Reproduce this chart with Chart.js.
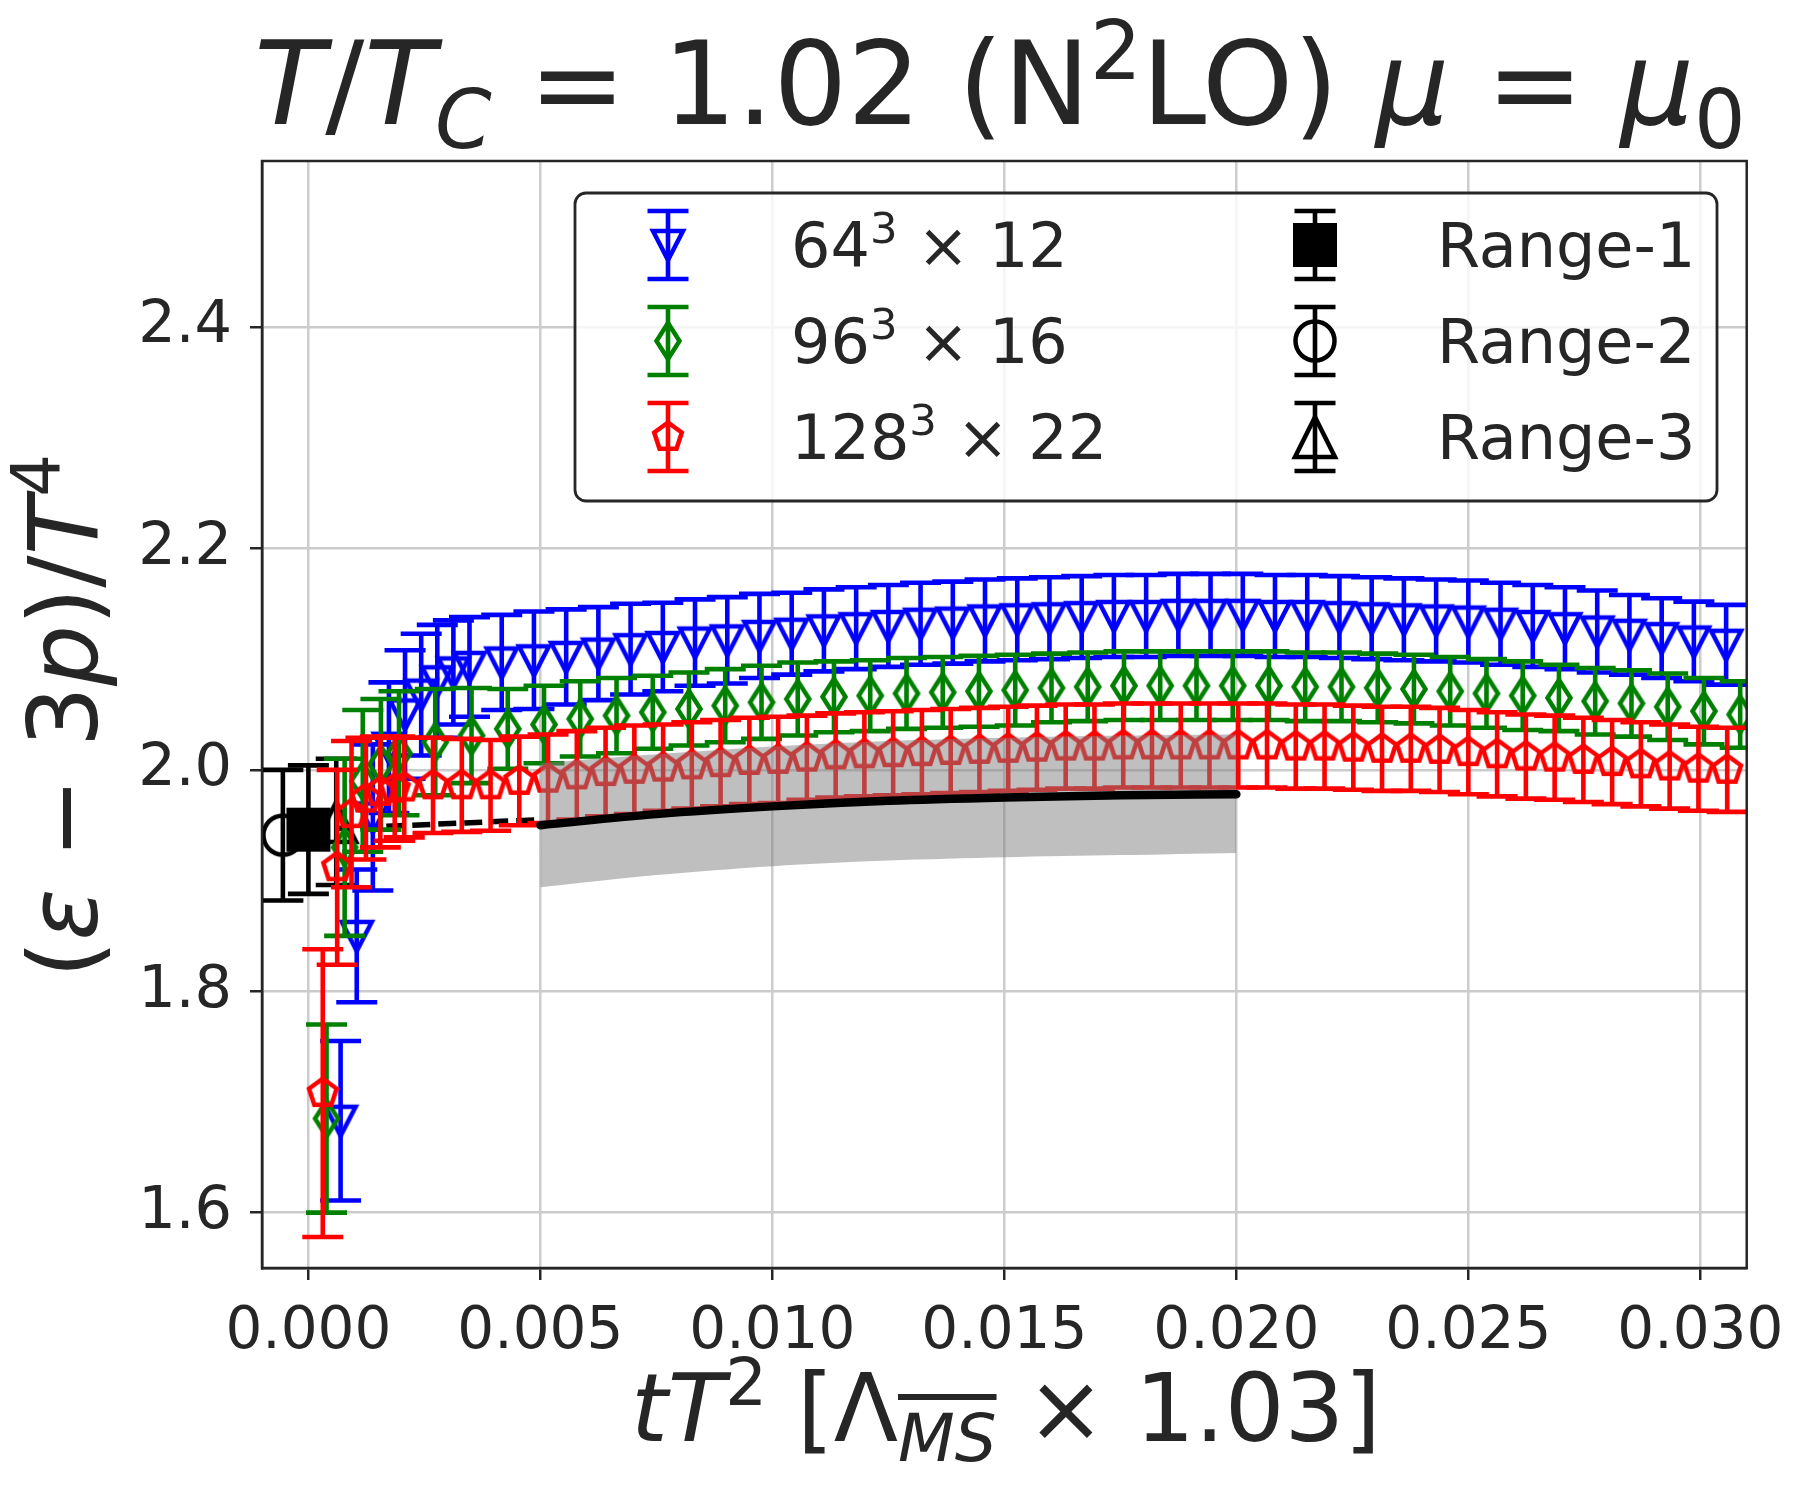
<!DOCTYPE html>
<html>
<head>
<meta charset="utf-8">
<script src="https://cdn.jsdelivr.net/npm/chart.js@4.4.0/dist/chart.umd.min.js"></script>
<style>
html, body { margin: 0; padding: 0; background: #fff; }
#wrap { position: relative; width: 1803px; height: 1502px; font-family: "DejaVu Sans", sans-serif; color: #262626; }
#c { position: absolute; left: 0; top: 0; }
.lbl { position: absolute; white-space: nowrap; line-height: 1; }
.sup { font-size: 70%; position: relative; top: -0.55em; }
.sub { font-size: 70%; position: relative; top: 0.3em; }
#title { font-size: 116px; left: 1000px; top: 26px; transform: translateX(-50%); }
#xlabel { font-size: 94px; left: 1006px; top: 1362px; transform: translateX(-50%); }
#ylabel { font-size: 96px; left: 64px; top: 716px; transform: translate(-50%, -50%) rotate(-90deg); }
.leg { font-size: 62px; transform: translateY(-50%); }
</style>
</head>
<body>
<div id="wrap">
  <canvas id="c" width="1803" height="1502"></canvas>
  <div id="title" class="lbl"><i>T</i>/<i>T</i><span class="sub"><i>C</i></span> = 1.02 (N<span class="sup">2</span>LO) <i>μ</i> = <i>μ</i><span class="sub">0</span></div>
  <div id="xlabel" class="lbl"><i>tT</i><span class="sup">2</span> [Λ<span class="sub"><i style="text-decoration: overline;">MS</i></span> × 1.03]</div>
  <div id="ylabel" class="lbl">(<i>ε</i> − 3<i>p</i>)/<i>T</i><span class="sup">4</span></div>
  <div class="lbl leg" style="left:791px; top:246px;">64<span class="sup">3</span> × 12</div>
  <div class="lbl leg" style="left:791px; top:342px;">96<span class="sup">3</span> × 16</div>
  <div class="lbl leg" style="left:791px; top:438px;">128<span class="sup">3</span> × 22</div>
  <div class="lbl leg" style="left:1437px; top:246px;">Range-1</div>
  <div class="lbl leg" style="left:1437px; top:342px;">Range-2</div>
  <div class="lbl leg" style="left:1437px; top:438px;">Range-3</div>
</div>
<script>
// tick values
const xTicks = [0.000, 0.005, 0.010, 0.015, 0.020, 0.025, 0.030];
const yTicks = [1.6, 1.8, 2.0, 2.2, 2.4];

// 64^3 x 12
const x64 = [0.000694, 0.001042, 0.001389, 0.001736, 0.002083, 0.002431, 0.002778, 0.003125, 0.003472,
  0.004167, 0.004861, 0.005556, 0.00625, 0.006944, 0.007639, 0.008333, 0.009028, 0.009722, 0.010417,
  0.011111, 0.011806, 0.0125, 0.013194, 0.013889, 0.014583, 0.015278, 0.015972, 0.016667, 0.017361,
  0.018056, 0.01875, 0.019444, 0.020139, 0.020833, 0.021528, 0.022222, 0.022917, 0.023611, 0.024306,
  0.025, 0.025694, 0.026389, 0.027083, 0.027778, 0.028472, 0.029167, 0.029861, 0.030556];
const y64 = [1.683, 1.850, 1.957, 2.020, 2.050, 2.068, 2.080, 2.088, 2.093,
  2.097, 2.099, 2.102, 2.105, 2.109, 2.111, 2.115, 2.117, 2.121, 2.123,
  2.126, 2.128, 2.130, 2.132, 2.133, 2.135, 2.136, 2.137, 2.138, 2.139,
  2.139, 2.140, 2.140, 2.140, 2.139, 2.139, 2.138, 2.137, 2.136, 2.135,
  2.134, 2.132, 2.130, 2.128, 2.125, 2.122, 2.119, 2.116, 2.113];
const e64 = [0.072, 0.060, 0.066, 0.059, 0.058, 0.055, 0.051, 0.047, 0.045,
  0.043, 0.044, 0.043, 0.042, 0.041, 0.040, 0.039, 0.039, 0.038, 0.037,
  0.037, 0.037, 0.037, 0.037, 0.037, 0.037, 0.037, 0.037, 0.037, 0.037,
  0.037, 0.037, 0.037, 0.037, 0.037, 0.037, 0.037, 0.037, 0.037, 0.037,
  0.037, 0.037, 0.037, 0.037, 0.037, 0.036, 0.036, 0.036, 0.036];

// 96^3 x 16
const x96 = [0.000391, 0.000781, 0.001172, 0.001563, 0.001953, 0.002734, 0.003516, 0.004297, 0.005078,
  0.005859, 0.006641, 0.007422, 0.008203, 0.008984, 0.009766, 0.010547, 0.011328, 0.012109, 0.012891,
  0.013672, 0.014453, 0.015234, 0.016016, 0.016797, 0.017578, 0.018359, 0.019141, 0.019922, 0.020703,
  0.021484, 0.022266, 0.023047, 0.023828, 0.024609, 0.025391, 0.026172, 0.026953, 0.027734, 0.028516,
  0.029297, 0.030078, 0.030859];
const y96 = [1.685, 1.930, 1.990, 2.005, 2.015, 2.025, 2.031, 2.037, 2.041,
  2.046, 2.049, 2.052, 2.055, 2.058, 2.061, 2.064, 2.066, 2.067, 2.069,
  2.070, 2.071, 2.072, 2.074, 2.075, 2.076, 2.076, 2.076, 2.076, 2.076,
  2.075, 2.075, 2.074, 2.073, 2.071, 2.069, 2.067, 2.065, 2.062, 2.060,
  2.057, 2.053, 2.050];
const e96 = [0.085, 0.080, 0.064, 0.059, 0.056, 0.048, 0.043, 0.036, 0.035,
  0.034, 0.034, 0.033, 0.033, 0.033, 0.033, 0.033, 0.032, 0.032, 0.032,
  0.032, 0.032, 0.032, 0.031, 0.031, 0.031, 0.031, 0.031, 0.031, 0.031,
  0.031, 0.031, 0.031, 0.031, 0.031, 0.031, 0.031, 0.030, 0.030, 0.030,
  0.030, 0.030, 0.030];

// 128^3 x 22
const x128 = [0.00031, 0.00062, 0.00093, 0.00124, 0.00155, 0.00186,
  0.002066, 0.002686, 0.003306, 0.003926, 0.004545, 0.005165, 0.005785, 0.006405, 0.007025, 0.007645,
  0.008264, 0.008884, 0.009504, 0.010124, 0.010744, 0.011364, 0.011983, 0.012603, 0.013223, 0.013843,
  0.014463, 0.015083, 0.015702, 0.016322, 0.016942, 0.017562, 0.018182, 0.018802, 0.019421, 0.020041,
  0.020661, 0.021281, 0.021901, 0.022521, 0.02314, 0.02376, 0.02438, 0.025, 0.02562, 0.02624,
  0.02686, 0.027479, 0.028099, 0.028719, 0.029339, 0.029959, 0.030579];
const y128 = [1.708, 1.912, 1.960, 1.974, 1.980, 1.983,
  1.984, 1.986, 1.986, 1.986, 1.990, 1.992, 1.995, 1.998, 2.000, 2.002,
  2.004, 2.006, 2.008, 2.009, 2.011, 2.013, 2.014, 2.015, 2.016, 2.017,
  2.018, 2.019, 2.020, 2.021, 2.021, 2.022, 2.022, 2.022, 2.022, 2.022,
  2.022, 2.021, 2.021, 2.020, 2.019, 2.019, 2.018, 2.016, 2.014, 2.012,
  2.011, 2.009, 2.007, 2.005, 2.003, 2.001, 2.000];
const e128 = [0.130, 0.088, 0.066, 0.055, 0.050, 0.047,
  0.045, 0.043, 0.042, 0.041, 0.040, 0.040, 0.040, 0.040, 0.040, 0.039,
  0.039, 0.039, 0.039, 0.039, 0.038, 0.038, 0.038, 0.038, 0.038, 0.038,
  0.038, 0.038, 0.038, 0.038, 0.038, 0.038, 0.038, 0.038, 0.038, 0.038,
  0.038, 0.038, 0.038, 0.038, 0.038, 0.038, 0.038, 0.038, 0.038, 0.038,
  0.038, 0.038, 0.038, 0.038, 0.038, 0.038, 0.038];

// continuum extrapolations
const rangeX = [0.0, -0.00055, 0.0006];
const rangeY = [1.946, 1.941, 1.953];
const rangeErr = [0.058, 0.059, 0.057];

// fit line and band
const dashX = [0.0, 0.005];
const dashY = [1.946, 1.955];
const fitX = [0.005, 0.0075, 0.010, 0.0125, 0.015, 0.0175, 0.020];
const fitY = [1.950, 1.960, 1.967, 1.972, 1.975, 1.977, 1.978];
const bandLo = [1.894, 1.905, 1.913, 1.918, 1.921, 1.923, 1.925];
const bandHi = [2.006, 2.014, 2.021, 2.026, 2.029, 2.031, 2.032];

const BLUE = '#0000ff', GREEN = '#008000', RED = '#ff0000', INK = '#262626';

function pts(xs, ys) {
    return xs.map((x, i) => ({ x: x, y: ys[i] }));
}

// marker images, drawn like matplotlib open markers
function markerCanvas(w, h, draw) {
    const c = document.createElement('canvas');
    c.width = w; c.height = h;
    const g = c.getContext('2d');
    g.translate(w / 2, h / 2);
    g.lineWidth = 4.5;
    g.lineJoin = 'miter';
    draw(g);
    return c;
}

const triDown = markerCanvas(46, 46, g => {
    g.strokeStyle = BLUE;
    g.beginPath(); g.moveTo(-15, -14); g.lineTo(15, -14); g.lineTo(0, 15); g.closePath(); g.stroke();
});
const thinDiamond = markerCanvas(36, 52, g => {
    g.strokeStyle = GREEN;
    g.beginPath(); g.moveTo(0, -18); g.lineTo(11.5, 0); g.lineTo(0, 18); g.lineTo(-11.5, 0); g.closePath(); g.stroke();
});
const pentagon = markerCanvas(42, 42, g => {
    g.strokeStyle = RED;
    g.beginPath();
    for (let k = 0; k < 5; k++) {
        const a = -Math.PI / 2 + k * 2 * Math.PI / 5;
        const px = 14.5 * Math.cos(a), py = 14.5 * Math.sin(a);
        if (k === 0) g.moveTo(px, py); else g.lineTo(px, py);
    }
    g.closePath(); g.stroke();
});
const square = markerCanvas(46, 46, g => {
    g.fillStyle = '#000';
    g.fillRect(-22, -22, 44, 44);
});
const circle = markerCanvas(50, 50, g => {
    g.strokeStyle = '#000';
    g.beginPath(); g.arc(0, 0, 19.5, 0, 2 * Math.PI); g.stroke();
});
const triUp = markerCanvas(58, 58, g => {
    g.strokeStyle = '#000';
    g.beginPath(); g.moveTo(0, -20); g.lineTo(20, 20); g.lineTo(-20, 20); g.closePath(); g.stroke();
});

function drawBar(ctx, px, yTop, yBot, color) {
    const cap = 20.5;
    ctx.strokeStyle = color;
    ctx.lineWidth = 4.6;
    ctx.lineCap = 'butt';
    ctx.beginPath();
    ctx.moveTo(px, yTop); ctx.lineTo(px, yBot);
    ctx.moveTo(px - cap, yTop); ctx.lineTo(px + cap, yTop);
    ctx.moveTo(px - cap, yBot); ctx.lineTo(px + cap, yBot);
    ctx.stroke();
}

// error bars are drawn right before each dataset's markers
const errorBars = {
    id: 'errorBars',
    beforeDatasetDraw(chart, args) {
        const ds = chart.data.datasets[args.index];
        if (!ds.errors) return;
        const { ctx, chartArea: a, scales } = chart;
        ctx.save();
        ctx.beginPath();
        ctx.rect(a.left, a.top, a.right - a.left, a.bottom - a.top);
        ctx.clip();
        ds.data.forEach((p, i) => {
            const px = scales.x.getPixelForValue(p.x);
            const yt = scales.y.getPixelForValue(p.y + ds.errors[i]);
            const yb = scales.y.getPixelForValue(p.y - ds.errors[i]);
            drawBar(ctx, px, yt, yb, ds.barColor);
        });
        ctx.restore();
    }
};

// frame on all four sides plus the legend box
const frameAndLegend = {
    id: 'frameAndLegend',
    afterDatasetsDraw(chart) {
        const { ctx, chartArea: a } = chart;
        ctx.save();
        ctx.strokeStyle = INK;
        ctx.lineWidth = 2.5;
        ctx.strokeRect(a.left, a.top, a.right - a.left, a.bottom - a.top);
        ctx.restore();
    },
    afterDraw(chart) {
        const ctx = chart.ctx;
        ctx.save();
        ctx.fillStyle = 'rgba(255,255,255,0.8)';
        ctx.strokeStyle = INK;
        ctx.lineWidth = 2.8;
        ctx.beginPath();
        ctx.roundRect(575, 193, 1142, 308, 11);
        ctx.fill();
        ctx.stroke();
        const rows = [245, 341, 437];
        const items = [
            [668, rows[0], BLUE, triDown], [668, rows[1], GREEN, thinDiamond], [668, rows[2], RED, pentagon],
            [1315, rows[0], '#000', square], [1315, rows[1], '#000', circle], [1315, rows[2], '#000', triUp]
        ];
        items.forEach(([cx, cy, col, img]) => {
            drawBar(ctx, cx, cy - 34, cy + 34, col);
            ctx.drawImage(img, cx - img.width / 2, cy - img.height / 2);
        });
        ctx.restore();
    }
};

Chart.defaults.font.family = '"DejaVu Sans", sans-serif';

const ctx = document.getElementById('c').getContext('2d');
new Chart(ctx, {
    type: 'scatter',
    data: {
        datasets: [
            { label: 'Range-1', data: [{ x: rangeX[0], y: rangeY[0] }], errors: [rangeErr[0]], barColor: '#000',
              pointStyle: square, pointRadius: 22, order: 12 },
            { label: 'Range-2', data: [{ x: rangeX[1], y: rangeY[1] }], errors: [rangeErr[1]], barColor: '#000',
              pointStyle: circle, pointRadius: 22, order: 13 },
            { label: 'Range-3', data: [{ x: rangeX[2], y: rangeY[2] }], errors: [rangeErr[2]], barColor: '#000',
              pointStyle: triUp, pointRadius: 22, order: 11 },
            { label: 'extrapolation', data: pts(dashX, dashY), showLine: true, borderColor: '#000', borderWidth: 5.5,
              borderDash: [18, 8], pointRadius: 0, order: 10 },
            { label: '64^3 x 12', data: pts(x64, y64), errors: e64, barColor: BLUE,
              pointStyle: triDown, pointRadius: 15, order: 9 },
            { label: '96^3 x 16', data: pts(x96, y96), errors: e96, barColor: GREEN,
              pointStyle: thinDiamond, pointRadius: 15, order: 8 },
            { label: '128^3 x 22', data: pts(x128, y128), errors: e128, barColor: RED,
              pointStyle: pentagon, pointRadius: 15, order: 7 },
            { label: 'band low', data: pts(fitX, bandLo), showLine: true, borderWidth: 0, borderColor: 'rgba(0,0,0,0)',
              pointRadius: 0, tension: 0.3, order: 6 },
            { label: 'band high', data: pts(fitX, bandHi), showLine: true, borderWidth: 0, borderColor: 'rgba(0,0,0,0)',
              pointRadius: 0, tension: 0.3, fill: '-1', backgroundColor: 'rgba(128,128,128,0.5)', order: 5 },
            { label: 'fit', data: pts(fitX, fitY), showLine: true, borderColor: '#000', borderWidth: 8.5,
              borderCapStyle: 'round', cubicInterpolationMode: 'monotone', pointRadius: 0, order: 4 }
        ]
    },
    options: {
        responsive: false,
        animation: false,
        events: [],
        layout: { padding: { top: 161, right: 53, left: 0, bottom: 0 } },
        plugins: { legend: { display: false }, tooltip: { enabled: false } },
        scales: {
            x: {
                type: 'linear', min: -0.001, max: 0.031,
                afterBuildTicks: s => { s.ticks = xTicks.map(v => ({ value: v })); },
                afterFit: s => { s.height = 234; },
                ticks: { callback: v => v.toFixed(3), color: INK, font: { size: 58 }, padding: 18, maxRotation: 0, autoSkip: false },
                grid: { color: '#cccccc', lineWidth: 2.5, tickColor: INK, tickLength: 12, tickWidth: 2.5 },
                border: { display: true, color: INK, width: 2.5 }
            },
            y: {
                type: 'linear', min: 1.55, max: 2.55,
                afterBuildTicks: s => { s.ticks = yTicks.map(v => ({ value: v })); },
                afterFit: s => { s.width = 262; },
                ticks: { callback: v => v.toFixed(1), color: INK, font: { size: 59 }, padding: 18, autoSkip: false },
                grid: { color: '#cccccc', lineWidth: 2.5, tickColor: INK, tickLength: 12, tickWidth: 2.5 },
                border: { display: true, color: INK, width: 2.5 }
            }
        }
    },
    plugins: [errorBars, frameAndLegend]
});
</script>
</body>
</html>
